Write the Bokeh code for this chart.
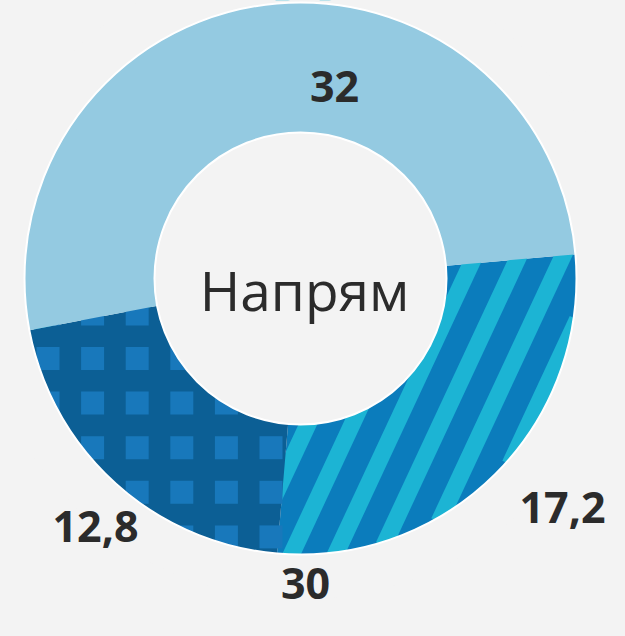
import numpy as np
from bokeh.plotting import figure
from bokeh.models import Range1d
from bokeh.core.properties import value
from bokeh.embed import file_html
from bokeh.resources import INLINE

# ---- data (anticlockwise order, starting from the lower-left segment) ----
segments = ["dark", "striped", "light"]
values = [12.8, 17.2, 32.0]
value_labels = ["12,8", "17,2", "32"]
group_total = values[0] + values[1]          # 30 (lower half group)
group_label = f"{group_total:g}"
center_label = "Напрям"

# ---- layout / style ----
W, H = 609, 620
CX, CY = 308.0, -286.0
R_OUT, R_IN = 276.0, 146.0
BOUNDARY_DEG = 5.0          # light/striped boundary angle
BG = "#f3f3f3"
TEXT = "#2b2b2b"
C_LIGHT = "#94cae1"
C_STRIPE_BASE = "#0b7cbc"
C_STRIPE = "#1cb4d4"
C_DARK = "#0c5f95"
C_SQUARE = "#1878bb"

tot = sum(values)
fr = np.array(values) / tot * 2 * np.pi
start0 = np.deg2rad(BOUNDARY_DEG) - (fr[0] + fr[1])
ends = start0 + np.cumsum(fr)
starts = ends - fr

p = figure(width=W, height=H, output_backend="svg", toolbar_location=None,
           x_range=Range1d(8, 8 + W), y_range=Range1d(-8 - H, -8),
           min_border=0, background_fill_color=BG, border_fill_color=BG,
           outline_line_color=None)
p.axis.visible = False
p.grid.visible = False

def wedge(i, color):
    p.annular_wedge(x=[CX], y=[CY], inner_radius=R_IN - 2, outer_radius=R_OUT + 1,
                    start_angle=[starts[i]], end_angle=[ends[i]],
                    fill_color=color, line_color=None)

# striped segment
wedge(1, C_STRIPE_BASE)
th = np.deg2rad(65)
d = np.array([np.cos(th), np.sin(th)])
n = np.array([np.sin(th), -np.cos(th)])
P = 40.0
p0 = np.array([514.0, -290.0])
C = np.array([CX, CY])
RC = R_OUT + 4
xs, ys = [], []
for k in range(-16, 17):
    c = p0 + k * P * n
    w = c - C
    bq = np.dot(w, d)
    disc = bq * bq - (np.dot(w, w) - RC * RC)
    if disc <= 0:
        continue
    t1, t2 = -bq - np.sqrt(disc), -bq + np.sqrt(disc)
    a, b = c + t1 * d, c + t2 * d
    xs.append([a[0], b[0]]); ys.append([a[1], b[1]])
p.multi_line(xs=xs, ys=ys, line_color=C_STRIPE, line_width=17, line_cap="butt")

# dark segment with squares
wedge(0, C_DARK)
SQ, SP = 23.0, 44.6
gx0, gy0 = 278.5, -366.0
sx, sy = [], []
for i in range(-8, 3):
    for j in range(-3, 8):
        x = gx0 + i * SP
        y = gy0 - j * SP
        ac = np.arctan2(y - CY, x - CX)
        if not (starts[0] - 0.3 <= ac <= ends[0]):
            continue
        corners = [(x + dx, y + dy) for dx in (-SQ/2, SQ/2) for dy in (-SQ/2, SQ/2)]
        angs = [np.arctan2(cy - CY, cx - CX) for cx, cy in corners]
        if any((-np.pi / 2 < a < 0 and a > ends[0]) for a in angs):
            continue
        r = np.hypot(x - CX, y - CY)
        if R_IN - SQ < r < R_OUT + 16:
            sx.append(x); sy.append(y)
p.rect(x=sx, y=sy, width=SQ, height=SQ, fill_color=C_SQUARE, line_color=None)

# light segment on top
wedge(2, C_LIGHT)

# hole and outer mask
p.circle(x=[CX], y=[CY], radius=R_IN, fill_color=BG, line_color="white", line_width=2)
p.annulus(x=[CX], y=[CY], inner_radius=R_OUT, outer_radius=R_OUT + 45,
          fill_color=BG, line_color=None)
p.circle(x=[CX], y=[CY], radius=R_OUT, fill_color=None, line_color="white", line_width=2)

# labels: offsets from the ring centre
LBL_OFF = {"32": (34, 192), "17,2": (262, -229), "12,8": (-205, -248), "30": (5, -305)}
CENTER_OFF = (4, -11)
texts = value_labels + [group_label]
lx = [CX + LBL_OFF[t][0] for t in texts]
ly = [CY + LBL_OFF[t][1] for t in texts]
p.text(x=lx, y=ly, text=texts, text_font=value("Open Sans"), text_font_size="43px",
       text_font_style="bold", text_color=TEXT, text_align="center",
       text_baseline="middle")
p.text(x=[CX + CENTER_OFF[0]], y=[CY + CENTER_OFF[1]], text=[center_label],
       text_font=value("Open Sans"), text_font_size="55px", text_color=TEXT,
       text_align="center", text_baseline="middle")

html = file_html(p, INLINE)
html = html.replace("<head>", "<head><style>body{background:%s;}</style>" % BG, 1)
open("out.html", "w").write(html)
